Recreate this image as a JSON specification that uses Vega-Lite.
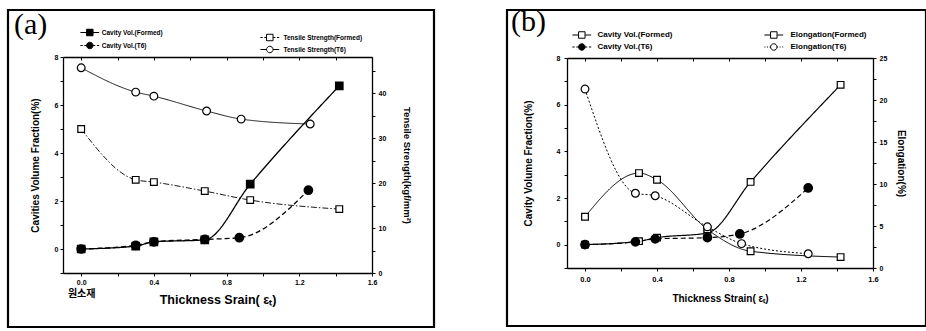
{
  "$schema": "https://vega.github.io/schema/vega-lite/v6.json",
  "background": "white",
  "padding": {"left": 6, "top": 5, "right": 0, "bottom": 0},
  "spacing": 69,
  "config": {
    "view": {"stroke": "black", "strokeWidth": 2.2},
    "axis": {"domain": true, "ticks": true, "domainColor": "black", "domainWidth": 1.3, "tickColor": "black", "tickWidth": 1, "labelColor": "black", "titleColor": "black", "labelFont": "Liberation Sans", "titleFont": "Liberation Sans", "labelFontWeight": "bold", "titleFontWeight": "bold", "grid": false, "labelFlush": false, "labelOverlap": false},
    "legend": {"labelFont": "Liberation Sans", "labelFontWeight": "bold", "labelColor": "black", "symbolStrokeWidth": 1, "padding": 0}
  },
  "datasets": {
    "a_cav": [
      {"series": "Cavity Vol.(Formed)", "strain": 0, "value": 0},
      {"series": "Cavity Vol.(Formed)", "strain": 0.3, "value": 0.12},
      {"series": "Cavity Vol.(Formed)", "strain": 0.4, "value": 0.3},
      {"series": "Cavity Vol.(Formed)", "strain": 0.68, "value": 0.38},
      {"series": "Cavity Vol.(Formed)", "strain": 0.93, "value": 2.7},
      {"series": "Cavity Vol.(Formed)", "strain": 1.42, "value": 6.8},
      {"series": "Cavity Vol.(T6)", "strain": 0, "value": 0},
      {"series": "Cavity Vol.(T6)", "strain": 0.3, "value": 0.15},
      {"series": "Cavity Vol.(T6)", "strain": 0.4, "value": 0.3},
      {"series": "Cavity Vol.(T6)", "strain": 0.68, "value": 0.4},
      {"series": "Cavity Vol.(T6)", "strain": 0.87, "value": 0.47},
      {"series": "Cavity Vol.(T6)", "strain": 1.25, "value": 2.45}
    ],
    "a_ten": [
      {"series": "Tensile Strength(Formed)", "strain": 0, "value": 32},
      {"series": "Tensile Strength(Formed)", "strain": 0.3, "value": 20.7},
      {"series": "Tensile Strength(Formed)", "strain": 0.4, "value": 20.2},
      {"series": "Tensile Strength(Formed)", "strain": 0.68, "value": 18.2},
      {"series": "Tensile Strength(Formed)", "strain": 0.93, "value": 16.2},
      {"series": "Tensile Strength(Formed)", "strain": 1.42, "value": 14.2},
      {"series": "Tensile Strength(T6)", "strain": 0, "value": 45.6},
      {"series": "Tensile Strength(T6)", "strain": 0.3, "value": 40.2},
      {"series": "Tensile Strength(T6)", "strain": 0.4, "value": 39.3},
      {"series": "Tensile Strength(T6)", "strain": 0.69, "value": 36},
      {"series": "Tensile Strength(T6)", "strain": 0.88, "value": 34.2},
      {"series": "Tensile Strength(T6)", "strain": 1.26, "value": 33.1}
    ],
    "b_cav": [
      {"series": "Cavity Vol.(Formed)", "strain": 0, "value": 0},
      {"series": "Cavity Vol.(Formed)", "strain": 0.3, "value": 0.15},
      {"series": "Cavity Vol.(Formed)", "strain": 0.4, "value": 0.3},
      {"series": "Cavity Vol.(Formed)", "strain": 0.68, "value": 0.5},
      {"series": "Cavity Vol.(Formed)", "strain": 0.92, "value": 2.69},
      {"series": "Cavity Vol.(Formed)", "strain": 1.42, "value": 6.85},
      {"series": "Cavity Vol.(T6)", "strain": 0, "value": 0},
      {"series": "Cavity Vol.(T6)", "strain": 0.28, "value": 0.12},
      {"series": "Cavity Vol.(T6)", "strain": 0.39, "value": 0.25},
      {"series": "Cavity Vol.(T6)", "strain": 0.68, "value": 0.3},
      {"series": "Cavity Vol.(T6)", "strain": 0.86, "value": 0.46},
      {"series": "Cavity Vol.(T6)", "strain": 1.24, "value": 2.43}
    ],
    "b_elo": [
      {"series": "Elongation(Formed)", "strain": 0, "value": 6.1},
      {"series": "Elongation(Formed)", "strain": 0.3, "value": 11.3},
      {"series": "Elongation(Formed)", "strain": 0.4, "value": 10.5},
      {"series": "Elongation(Formed)", "strain": 0.68, "value": 4.6},
      {"series": "Elongation(Formed)", "strain": 0.92, "value": 2.0},
      {"series": "Elongation(Formed)", "strain": 1.42, "value": 1.3},
      {"series": "Elongation(T6)", "strain": 0, "value": 21.3},
      {"series": "Elongation(T6)", "strain": 0.28, "value": 8.9},
      {"series": "Elongation(T6)", "strain": 0.39, "value": 8.6},
      {"series": "Elongation(T6)", "strain": 0.68, "value": 4.9},
      {"series": "Elongation(T6)", "strain": 0.87, "value": 2.9},
      {"series": "Elongation(T6)", "strain": 1.24, "value": 1.7}
    ]
  },
  "hconcat": [
    {
      "width": 426,
      "height": 317,
      "title": {"text": "(a)", "anchor": "start", "frame": "group", "orient": "top", "font": "Liberation Serif", "fontSize": 30, "fontWeight": "normal", "color": "black", "offset": -30, "dx": 6},
      "layer": [
        {
          "mark": {"type": "rect", "filled": false, "color": "black", "strokeWidth": 1.3, "opacity": 1},
          "encoding": {
            "x": {"datum": -0.1, "type": "quantitative", "scale": {"domain": [-0.1, 1.6], "range": [55, 364], "nice": false, "zero": false}, "axis": null},
            "x2": {"datum": 1.6},
            "y": {"datum": -1, "type": "quantitative", "scale": {"domain": [-1, 8], "range": [263, 47], "nice": false, "zero": false}, "axis": null},
            "y2": {"datum": 8}
          }
        },
        {
          "data": {"name": "a_cav"},
          "mark": {"type": "line", "interpolate": "monotone", "color": "black", "strokeWidth": 1.3},
          "encoding": {
            "x": {"field": "strain", "type": "quantitative", "scale": {"domain": [-0.1, 1.6], "range": [55, 364], "nice": false, "zero": false},
              "axis": {"orient": "bottom", "offset": -54, "values": [0, 0.2, 0.4, 0.6, 0.8, 1, 1.2, 1.4, 1.6], "labelExpr": "round(datum.value*10) % 4 == 0 ? format(datum.value, '.1f') : ''", "title": "Thickness Srain( εₜ)", "titleFontSize": 12.5, "titleY": 26, "titleBaseline": "middle", "labelFontSize": 7, "tickSize": 3, "labelPadding": 2}},
            "y": {"field": "value", "type": "quantitative", "scale": {"domain": [-1, 8], "range": [263, 47], "nice": false, "zero": false},
              "axis": {"orient": "left", "offset": -55, "values": [-1, 0, 1, 2, 3, 4, 5, 6, 7, 8], "labelExpr": "datum.value >= 0 && datum.value % 2 == 0 ? format(datum.value, 'd') : ''", "title": "Cavities Volume Fraction(%)", "titleFontSize": 10, "titleX": -28, "titleBaseline": "middle", "labelFontSize": 7, "tickSize": 3, "labelPadding": 2}},
            "strokeDash": {"field": "series", "type": "nominal", "scale": {"domain": ["Cavity Vol.(Formed)", "Cavity Vol.(T6)"], "range": [[1, 0], [5, 3]]}, "legend": null}
          }
        },
        {
          "data": {"name": "a_cav"},
          "transform": [{"filter": "datum.series == 'Cavity Vol.(Formed)'"}],
          "mark": {"type": "point", "shape": "square", "filled": true, "fill": "black", "stroke": "black", "size": 45, "opacity": 1},
          "encoding": {
            "x": {"field": "strain", "type": "quantitative", "scale": {"domain": [-0.1, 1.6], "range": [55, 364], "nice": false, "zero": false}, "axis": null},
            "y": {"field": "value", "type": "quantitative", "scale": {"domain": [-1, 8], "range": [263, 47], "nice": false, "zero": false}, "axis": null}
          }
        },
        {
          "data": {"name": "a_cav"},
          "transform": [{"filter": "datum.series == 'Cavity Vol.(T6)'"}],
          "mark": {"type": "point", "shape": "circle", "filled": true, "fill": "black", "stroke": "black", "size": 60, "opacity": 1},
          "encoding": {
            "x": {"field": "strain", "type": "quantitative", "scale": {"domain": [-0.1, 1.6], "range": [55, 364], "nice": false, "zero": false}, "axis": null},
            "y": {"field": "value", "type": "quantitative", "scale": {"domain": [-1, 8], "range": [263, 47], "nice": false, "zero": false}, "axis": null}
          }
        },
        {
          "data": {"name": "a_cav"},
          "mark": {"type": "point", "opacity": 0},
          "encoding": {
            "x": {"field": "strain", "type": "quantitative", "scale": {"domain": [-0.1, 1.6], "range": [55, 364], "nice": false, "zero": false}, "axis": null},
            "y": {"field": "value", "type": "quantitative", "scale": {"domain": [-1, 8], "range": [263, 47], "nice": false, "zero": false}, "axis": null},
            "shape": {"field": "series", "type": "nominal", "scale": {"domain": ["Cavity Vol.(Formed)", "Cavity Vol.(T6)"], "range": ["M-2.9,0H-1M1,0H2.9M-1,-1H1V1H-1Z", "M-2.9,0H-2.2M-1.7,0H-1M1,0H1.7M2.2,0H2.9M-1,0A1,1,0,1,0,1,0A1,1,0,1,0,-1,0Z"]},
              "legend": {"orient": "none", "legendX": 77.8, "legendY": 18.5, "title": null, "symbolSize": 42, "symbolOpacity": 1, "labelFontSize": 6.5, "rowPadding": 1, "labelOffset": 8}},
            "fill": {"field": "series", "type": "nominal", "scale": {"domain": ["Cavity Vol.(Formed)", "Cavity Vol.(T6)"], "range": ["black", "black"]},
              "legend": {"orient": "none", "legendX": 77.8, "legendY": 18.5, "title": null, "symbolSize": 42, "symbolOpacity": 1, "labelFontSize": 6.5, "rowPadding": 1, "labelOffset": 8}},
            "stroke": {"field": "series", "type": "nominal", "scale": {"domain": ["Cavity Vol.(Formed)", "Cavity Vol.(T6)"], "range": ["black", "black"]},
              "legend": {"orient": "none", "legendX": 77.8, "legendY": 18.5, "title": null, "symbolSize": 42, "symbolOpacity": 1, "labelFontSize": 6.5, "rowPadding": 1, "labelOffset": 8}}
          }
        },
        {
          "data": {"name": "a_ten"},
          "mark": {"type": "line", "interpolate": "monotone", "color": "black", "strokeWidth": 0.9},
          "encoding": {
            "x": {"field": "strain", "type": "quantitative", "scale": {"domain": [-0.1, 1.6], "range": [55, 364], "nice": false, "zero": false},
              "axis": {"orient": "top", "offset": -47, "values": [0, 0.2, 0.4, 0.6, 0.8, 1, 1.2, 1.4, 1.6], "labels": false, "title": null, "tickSize": -3}},
            "y": {"field": "value", "type": "quantitative", "scale": {"domain": [0, 48], "range": [263, 47], "nice": false, "zero": false},
              "axis": {"orient": "right", "offset": -62, "values": [0, 5, 10, 15, 20, 25, 30, 35, 40, 45], "labelExpr": "datum.value % 10 == 0 ? format(datum.value, 'd') : ''", "title": "Tensile Strength(kgf/mm²)", "titleFontSize": 9.5, "titleX": 34, "titleAngle": 90, "titleBaseline": "middle", "labelFontSize": 7, "tickSize": 3, "labelPadding": 3}},
            "strokeDash": {"field": "series", "type": "nominal", "scale": {"domain": ["Tensile Strength(Formed)", "Tensile Strength(T6)"], "range": [[6, 2, 1.5, 2], [1, 0]]}, "legend": null}
          }
        },
        {
          "data": {"name": "a_ten"},
          "transform": [{"filter": "datum.series == 'Tensile Strength(Formed)'"}],
          "mark": {"type": "point", "shape": "square", "filled": true, "fill": "white", "stroke": "black", "strokeWidth": 1.2, "size": 45, "opacity": 1},
          "encoding": {
            "x": {"field": "strain", "type": "quantitative", "scale": {"domain": [-0.1, 1.6], "range": [55, 364], "nice": false, "zero": false}, "axis": null},
            "y": {"field": "value", "type": "quantitative", "scale": {"domain": [0, 48], "range": [263, 47], "nice": false, "zero": false}, "axis": null}
          }
        },
        {
          "data": {"name": "a_ten"},
          "transform": [{"filter": "datum.series == 'Tensile Strength(T6)'"}],
          "mark": {"type": "point", "shape": "circle", "filled": true, "fill": "white", "stroke": "black", "strokeWidth": 1.2, "size": 60, "opacity": 1},
          "encoding": {
            "x": {"field": "strain", "type": "quantitative", "scale": {"domain": [-0.1, 1.6], "range": [55, 364], "nice": false, "zero": false}, "axis": null},
            "y": {"field": "value", "type": "quantitative", "scale": {"domain": [0, 48], "range": [263, 47], "nice": false, "zero": false}, "axis": null}
          }
        },
        {
          "data": {"name": "a_ten"},
          "mark": {"type": "point", "opacity": 0},
          "encoding": {
            "x": {"field": "strain", "type": "quantitative", "scale": {"domain": [-0.1, 1.6], "range": [55, 364], "nice": false, "zero": false}, "axis": null},
            "y": {"field": "value", "type": "quantitative", "scale": {"domain": [0, 48], "range": [263, 47], "nice": false, "zero": false}, "axis": null},
            "shape": {"field": "series", "type": "nominal", "scale": {"domain": ["Tensile Strength(Formed)", "Tensile Strength(T6)"], "range": ["M-2.9,0H-2.2M-1.7,0H-1M1,0H1.7M2.2,0H2.9M-1,-1H1V1H-1Z", "M-2.9,0H-1M1,0H2.9M-1,0A1,1,0,1,0,1,0A1,1,0,1,0,-1,0Z"]},
              "legend": {"orient": "none", "legendX": 257.8, "legendY": 23.5, "title": null, "symbolSize": 42, "symbolOpacity": 1, "labelFontSize": 6.5, "rowPadding": 0, "labelOffset": 9.7}},
            "fill": {"field": "series", "type": "nominal", "scale": {"domain": ["Tensile Strength(Formed)", "Tensile Strength(T6)"], "range": ["white", "white"]},
              "legend": {"orient": "none", "legendX": 257.8, "legendY": 23.5, "title": null, "symbolSize": 42, "symbolOpacity": 1, "labelFontSize": 6.5, "rowPadding": 0, "labelOffset": 9.7}},
            "stroke": {"field": "series", "type": "nominal", "scale": {"domain": ["Tensile Strength(Formed)", "Tensile Strength(T6)"], "range": ["black", "black"]},
              "legend": {"orient": "none", "legendX": 257.8, "legendY": 23.5, "title": null, "symbolSize": 42, "symbolOpacity": 1, "labelFontSize": 6.5, "rowPadding": 0, "labelOffset": 9.7}}
          }
        },
        {
          "data": {"name": "a_cav"},
          "mark": {"type": "point", "opacity": 0},
          "encoding": {
            "x": {"field": "strain", "type": "quantitative", "scale": {"domain": [-0.1, 1.6], "range": [55, 364], "nice": false, "zero": false},
              "axis": {"orient": "bottom", "offset": -54, "values": [0], "labelExpr": "'원소재'", "domain": false, "ticks": false, "labelPadding": 15, "labelFontSize": 10, "labelFont": "Noto Sans CJK KR", "title": null}},
            "y": {"field": "value", "type": "quantitative", "scale": {"domain": [-1, 8], "range": [263, 47], "nice": false, "zero": false}, "axis": null}
          }
        }
      ],
      "resolve": {
        "scale": {"x": "independent", "y": "independent", "shape": "independent", "fill": "independent", "stroke": "independent", "strokeDash": "independent"},
        "axis": {"x": "independent", "y": "independent"},
        "legend": {"shape": "independent", "fill": "independent", "stroke": "independent"}
      }
    },
    {
      "width": 419,
      "height": 316,
      "title": {"text": "(b)", "anchor": "start", "frame": "group", "orient": "top", "font": "Liberation Serif", "fontSize": 30, "fontWeight": "normal", "color": "black", "offset": -27, "dx": 4},
      "layer": [
        {
          "mark": {"type": "rect", "filled": false, "color": "black", "strokeWidth": 1.3, "opacity": 1},
          "encoding": {
            "x": {"datum": -0.1, "type": "quantitative", "scale": {"domain": [-0.1, 1.6], "range": [60, 366], "nice": false, "zero": false}, "axis": null},
            "x2": {"datum": 1.6},
            "y": {"datum": -1, "type": "quantitative", "scale": {"domain": [-1, 8], "range": [258, 48], "nice": false, "zero": false}, "axis": null},
            "y2": {"datum": 8}
          }
        },
        {
          "data": {"name": "b_cav"},
          "mark": {"type": "line", "interpolate": "monotone", "color": "black", "strokeWidth": 1.2},
          "encoding": {
            "x": {"field": "strain", "type": "quantitative", "scale": {"domain": [-0.1, 1.6], "range": [60, 366], "nice": false, "zero": false},
              "axis": {"orient": "bottom", "offset": -58, "values": [0, 0.2, 0.4, 0.6, 0.8, 1, 1.2, 1.4, 1.6], "labelExpr": "round(datum.value*10) % 4 == 0 ? format(datum.value, '.1f') : ''", "title": "Thickness Strain( εₜ)", "titleFontSize": 10, "titleY": 30, "titleBaseline": "middle", "labelFontSize": 7.5, "tickSize": 3, "labelPadding": 4}},
            "y": {"field": "value", "type": "quantitative", "scale": {"domain": [-1, 8], "range": [258, 48], "nice": false, "zero": false},
              "axis": {"orient": "left", "offset": -60, "values": [-1, 0, 1, 2, 3, 4, 5, 6, 7, 8], "labelExpr": "datum.value >= 0 && datum.value % 2 == 0 ? format(datum.value, 'd') : ''", "title": "Cavity Volume Fraction(%)", "titleFontSize": 10, "titlePadding": 23, "labelFontSize": 7, "tickSize": 3, "labelPadding": 4}},
            "strokeDash": {"field": "series", "type": "nominal", "scale": {"domain": ["Cavity Vol.(Formed)", "Cavity Vol.(T6)"], "range": [[1, 0], [5, 3]]}, "legend": null}
          }
        },
        {
          "data": {"name": "b_cav"},
          "transform": [{"filter": "datum.series == 'Cavity Vol.(Formed)'"}],
          "mark": {"type": "point", "shape": "square", "filled": true, "fill": "white", "stroke": "black", "strokeWidth": 1.2, "size": 45, "opacity": 1},
          "encoding": {
            "x": {"field": "strain", "type": "quantitative", "scale": {"domain": [-0.1, 1.6], "range": [60, 366], "nice": false, "zero": false}, "axis": null},
            "y": {"field": "value", "type": "quantitative", "scale": {"domain": [-1, 8], "range": [258, 48], "nice": false, "zero": false}, "axis": null}
          }
        },
        {
          "data": {"name": "b_cav"},
          "transform": [{"filter": "datum.series == 'Cavity Vol.(T6)'"}],
          "mark": {"type": "point", "shape": "circle", "filled": true, "fill": "black", "stroke": "black", "size": 60, "opacity": 1},
          "encoding": {
            "x": {"field": "strain", "type": "quantitative", "scale": {"domain": [-0.1, 1.6], "range": [60, 366], "nice": false, "zero": false}, "axis": null},
            "y": {"field": "value", "type": "quantitative", "scale": {"domain": [-1, 8], "range": [258, 48], "nice": false, "zero": false}, "axis": null}
          }
        },
        {
          "data": {"name": "b_cav"},
          "mark": {"type": "point", "opacity": 0},
          "encoding": {
            "x": {"field": "strain", "type": "quantitative", "scale": {"domain": [-0.1, 1.6], "range": [60, 366], "nice": false, "zero": false}, "axis": null},
            "y": {"field": "value", "type": "quantitative", "scale": {"domain": [-1, 8], "range": [258, 48], "nice": false, "zero": false}, "axis": null},
            "shape": {"field": "series", "type": "nominal", "scale": {"domain": ["Cavity Vol.(Formed)", "Cavity Vol.(T6)"], "range": ["M-2.9,0H-1M1,0H2.9M-1,-1H1V1H-1Z", "M-2.9,0H-2.2M-1.7,0H-1M1,0H1.7M2.2,0H2.9M-1,0A1,1,0,1,0,1,0A1,1,0,1,0,-1,0Z"]},
              "legend": {"orient": "none", "legendX": 70.8, "legendY": 21, "title": null, "symbolSize": 42, "symbolOpacity": 1, "labelFontSize": 8, "rowPadding": 0, "labelOffset": 11.7}},
            "fill": {"field": "series", "type": "nominal", "scale": {"domain": ["Cavity Vol.(Formed)", "Cavity Vol.(T6)"], "range": ["white", "black"]},
              "legend": {"orient": "none", "legendX": 70.8, "legendY": 21, "title": null, "symbolSize": 42, "symbolOpacity": 1, "labelFontSize": 8, "rowPadding": 0, "labelOffset": 11.7}},
            "stroke": {"field": "series", "type": "nominal", "scale": {"domain": ["Cavity Vol.(Formed)", "Cavity Vol.(T6)"], "range": ["black", "black"]},
              "legend": {"orient": "none", "legendX": 70.8, "legendY": 21, "title": null, "symbolSize": 42, "symbolOpacity": 1, "labelFontSize": 8, "rowPadding": 0, "labelOffset": 11.7}}
          }
        },
        {
          "data": {"name": "b_elo"},
          "mark": {"type": "line", "interpolate": "monotone", "color": "black", "strokeWidth": 1},
          "encoding": {
            "x": {"field": "strain", "type": "quantitative", "scale": {"domain": [-0.1, 1.6], "range": [60, 366], "nice": false, "zero": false},
              "axis": {"orient": "top", "offset": -48, "values": [0, 0.2, 0.4, 0.6, 0.8, 1, 1.2, 1.4, 1.6], "labels": false, "title": null, "tickSize": -3}},
            "y": {"field": "value", "type": "quantitative", "scale": {"domain": [0, 25], "range": [258, 48], "nice": false, "zero": false},
              "axis": {"orient": "right", "offset": -53, "values": [0, 2.5, 5, 7.5, 10, 12.5, 15, 17.5, 20, 22.5, 25], "labelExpr": "datum.value % 5 == 0 ? format(datum.value, 'd') : ''", "title": "Elongation(%)", "titleFontSize": 10, "titleX": 27, "titleAngle": 90, "titleBaseline": "middle", "labelFontSize": 7, "tickSize": 3, "labelPadding": 3}},
            "strokeDash": {"field": "series", "type": "nominal", "scale": {"domain": ["Elongation(Formed)", "Elongation(T6)"], "range": [[1, 0], [2, 2]]}, "legend": null}
          }
        },
        {
          "data": {"name": "b_elo"},
          "transform": [{"filter": "datum.series == 'Elongation(Formed)'"}],
          "mark": {"type": "point", "shape": "square", "filled": true, "fill": "white", "stroke": "black", "strokeWidth": 1.2, "size": 45, "opacity": 1},
          "encoding": {
            "x": {"field": "strain", "type": "quantitative", "scale": {"domain": [-0.1, 1.6], "range": [60, 366], "nice": false, "zero": false}, "axis": null},
            "y": {"field": "value", "type": "quantitative", "scale": {"domain": [0, 25], "range": [258, 48], "nice": false, "zero": false}, "axis": null}
          }
        },
        {
          "data": {"name": "b_elo"},
          "transform": [{"filter": "datum.series == 'Elongation(T6)'"}],
          "mark": {"type": "point", "shape": "circle", "filled": true, "fill": "white", "stroke": "black", "strokeWidth": 1.2, "size": 60, "opacity": 1},
          "encoding": {
            "x": {"field": "strain", "type": "quantitative", "scale": {"domain": [-0.1, 1.6], "range": [60, 366], "nice": false, "zero": false}, "axis": null},
            "y": {"field": "value", "type": "quantitative", "scale": {"domain": [0, 25], "range": [258, 48], "nice": false, "zero": false}, "axis": null}
          }
        },
        {
          "data": {"name": "b_elo"},
          "mark": {"type": "point", "opacity": 0},
          "encoding": {
            "x": {"field": "strain", "type": "quantitative", "scale": {"domain": [-0.1, 1.6], "range": [60, 366], "nice": false, "zero": false}, "axis": null},
            "y": {"field": "value", "type": "quantitative", "scale": {"domain": [0, 25], "range": [258, 48], "nice": false, "zero": false}, "axis": null},
            "shape": {"field": "series", "type": "nominal", "scale": {"domain": ["Elongation(Formed)", "Elongation(T6)"], "range": ["M-2.9,0H-1M1,0H2.9M-1,-1H1V1H-1Z", "M-2.9,0H-2.6M-2.1,0H-1.8M-1.3,0H-1M1,0H1.3M1.8,0H2.1M2.6,0H2.9M-1,0A1,1,0,1,0,1,0A1,1,0,1,0,-1,0Z"]},
              "legend": {"orient": "none", "legendX": 262.8, "legendY": 21, "title": null, "symbolSize": 42, "symbolOpacity": 1, "labelFontSize": 8, "rowPadding": 0, "labelOffset": 12.7}},
            "fill": {"field": "series", "type": "nominal", "scale": {"domain": ["Elongation(Formed)", "Elongation(T6)"], "range": ["white", "white"]},
              "legend": {"orient": "none", "legendX": 262.8, "legendY": 21, "title": null, "symbolSize": 42, "symbolOpacity": 1, "labelFontSize": 8, "rowPadding": 0, "labelOffset": 12.7}},
            "stroke": {"field": "series", "type": "nominal", "scale": {"domain": ["Elongation(Formed)", "Elongation(T6)"], "range": ["black", "black"]},
              "legend": {"orient": "none", "legendX": 262.8, "legendY": 21, "title": null, "symbolSize": 42, "symbolOpacity": 1, "labelFontSize": 8, "rowPadding": 0, "labelOffset": 12.7}}
          }
        }
      ],
      "resolve": {
        "scale": {"x": "independent", "y": "independent", "shape": "independent", "fill": "independent", "stroke": "independent", "strokeDash": "independent"},
        "axis": {"x": "independent", "y": "independent"},
        "legend": {"shape": "independent", "fill": "independent", "stroke": "independent"}
      }
    }
  ]
}
